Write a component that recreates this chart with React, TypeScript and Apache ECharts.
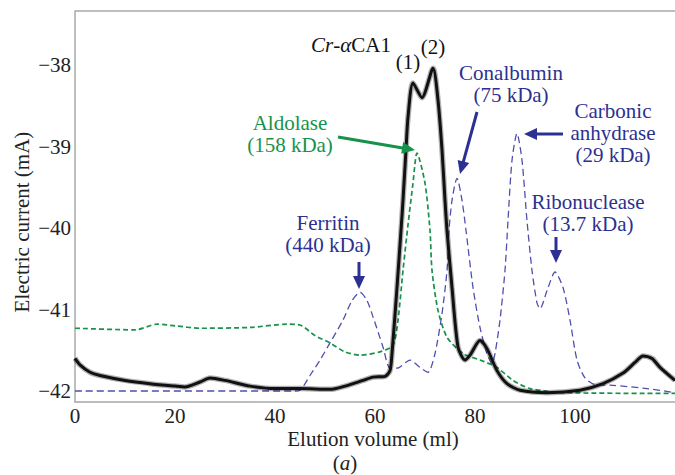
import React, { useEffect, useRef } from "react";
import * as echarts from "echarts";

// Elution profile of Cr-αCA1 (black, solid)
const crVolume = [0, 1, 3, 5, 10, 15, 20, 22, 25, 27, 30, 35, 40, 45, 51, 54, 57.6, 59.6, 62, 63, 63.4, 64.4, 65.2, 65.6, 66.2, 66.6, 67.6, 69.4, 71.6, 72.6, 73.4, 74.0, 74.4, 75.4, 76.6, 78.0, 79.0, 81.0, 82.4, 84.4, 86.4, 89, 94.4, 101, 105.6, 109.6, 112, 113.6, 115.4, 117, 120];
const crCurrent = [-41.6, -41.68, -41.77, -41.81, -41.87, -41.91, -41.94, -41.95, -41.89, -41.84, -41.87, -41.94, -41.97, -41.97, -41.98, -41.94, -41.87, -41.83, -41.82, -41.75, -41.54, -40.73, -40.03, -39.66, -39.04, -38.64, -38.22, -38.4, -38.04, -38.43, -39.04, -39.66, -40.03, -40.73, -41.46, -41.62, -41.56, -41.38, -41.48, -41.75, -41.91, -41.99, -42.02, -41.99, -41.91, -41.78, -41.65, -41.57, -41.6, -41.71, -41.87];

// Aldolase standard (green, dashed)
const aldolaseVolume = [0, 12, 16.4, 20, 25, 35, 42.4, 45, 48, 51, 54, 57, 61, 63.6, 64.6, 65.6, 66.6, 67.6, 68.4, 70, 71, 71.4, 72.6, 74.4, 77.6, 81, 84.4, 87.6, 91, 97.6, 120];
const aldolaseCurrent = [-41.23, -41.25, -41.18, -41.2, -41.23, -41.22, -41.18, -41.19, -41.32, -41.41, -41.52, -41.56, -41.52, -41.44, -41.13, -40.52, -39.96, -39.45, -39.08, -39.45, -40.03, -40.52, -41.01, -41.34, -41.54, -41.62, -41.71, -41.87, -41.97, -42.02, -42.03];

// Ferritin, conalbumin, carbonic anhydrase, ribonuclease standards (blue, dashed)
const standardsVolume = [0, 43.6, 45, 47, 49, 51, 53.6, 55.4, 57, 58.4, 59.6, 61.6, 63, 64.4, 67, 69, 70.6, 72, 73.4, 74.4, 74.8, 75.4, 76.4, 77.4, 78.2, 79.6, 81, 82.4, 83.4, 84, 85, 86, 86.6, 87.4, 88.4, 89.4, 90.4, 91.4, 92.4, 93, 94.4, 96, 97.6, 99, 100.4, 102, 104, 107.6, 114.4, 120];
const standardsCurrent = [-42.0, -42.0, -41.99, -41.81, -41.62, -41.41, -41.13, -40.89, -40.79, -40.89, -41.09, -41.46, -41.72, -41.72, -41.62, -41.71, -41.77, -41.54, -41.05, -40.52, -40.03, -39.66, -39.39, -39.66, -40.03, -40.73, -41.22, -41.54, -41.66, -41.54, -41.13, -40.52, -39.91, -39.17, -38.84, -39.17, -39.91, -40.52, -40.92, -40.99, -40.77, -40.54, -40.73, -41.13, -41.62, -41.84, -41.92, -41.93, -41.97, -42.02];

const xTicks = [0, 20, 40, 60, 80, 100];
const yTicks = [-42, -41, -40, -39, -38];

const FONT = "Liberation Serif, serif";
const FS = 21;
const GREEN = "#17924b";
const BLUE_TEXT = "#2c3090";
const BLUE_LINE = "#4f4fae";
const AXIS = "#a8a8a8";

const pairs = (xs: number[], ys: number[]) => xs.map((x, i) => [x, ys[i]]);

function arrow(x1: number, y1: number, x2: number, y2: number, color: string) {
  const dx = x2 - x1;
  const dy = y2 - y1;
  const len = Math.sqrt(dx * dx + dy * dy);
  const ux = dx / len;
  const uy = dy / len;
  const L = 13;
  const W = 6;
  const bx = x2 - ux * L;
  const by = y2 - uy * L;
  const nx = -uy;
  const ny = ux;
  return [
    {
      type: "line",
      shape: { x1, y1, x2: bx + ux * 2, y2: by + uy * 2 },
      style: { stroke: color, lineWidth: 3 },
      z: 100,
    },
    {
      type: "polygon",
      shape: {
        points: [
          [x2, y2],
          [bx + nx * W, by + ny * W],
          [bx - nx * W, by - ny * W],
        ],
      },
      style: { fill: color },
      z: 100,
    },
  ];
}

function label(text: string, x: number, y: number, color: string, extra: any = {}) {
  return {
    type: "text",
    x,
    y,
    z: 100,
    style: {
      text,
      fill: color,
      fontFamily: FONT,
      fontSize: FS,
      align: "center",
      verticalAlign: "middle",
      lineHeight: 22,
      ...extra,
    },
  };
}

export default function App() {
  const ref = useRef<HTMLDivElement>(null);

  useEffect(() => {
    if (!ref.current) return;
    const chart = echarts.init(ref.current, undefined, { renderer: "svg" });

    const italic = { fontStyle: "italic", fontFamily: FONT, fontSize: FS };

    const graphic: any[] = [
      {
        type: "line",
        shape: { x1: 75, y1: 11, x2: 675, y2: 11 },
        style: { stroke: AXIS, lineWidth: 1.5 },
      },
      label("Elution volume (ml)", 373, 439, "#222", { lineHeight: 21 }),
      {
        type: "text",
        x: 345,
        y: 463,
        style: {
          text: "({i|a})",
          fill: "#222",
          fontFamily: FONT,
          fontSize: FS,
          align: "center",
          verticalAlign: "middle",
          rich: { i: { ...italic, fill: "#222" } },
        },
      },
      {
        type: "text",
        x: 22,
        y: 222,
        rotation: Math.PI / 2,
        style: {
          text: "Electric current (mA)",
          fill: "#222",
          fontFamily: FONT,
          fontSize: FS,
          align: "center",
          verticalAlign: "middle",
        },
      },
      {
        type: "text",
        x: 351,
        y: 45,
        z: 100,
        style: {
          text: "{i|Cr}-{i|α}CA1",
          fill: "#111",
          fontFamily: FONT,
          fontSize: FS,
          align: "center",
          verticalAlign: "middle",
          rich: { i: { ...italic, fill: "#111" } },
        },
      },
      label("(1)", 408, 62, "#111"),
      label("(2)", 433, 47, "#111"),
      label("Aldolase\n(158 kDa)", 290, 134, GREEN),
      ...arrow(338, 137, 415, 150, GREEN),
      label("Ferritin\n(440 kDa)", 328, 234, BLUE_TEXT),
      ...arrow(359, 262, 359, 289, BLUE_TEXT),
      label("Conalbumin\n(75 kDa)", 511, 84, BLUE_TEXT),
      ...arrow(477, 112, 460, 174, BLUE_TEXT),
      label("Carbonic\nanhydrase\n(29 kDa)", 613, 133, BLUE_TEXT),
      ...arrow(563, 134, 524, 134, BLUE_TEXT),
      label("Ribonuclease\n(13.7 kDa)", 588, 213, BLUE_TEXT),
      ...arrow(556, 237, 556, 263, BLUE_TEXT),
    ];

    chart.setOption({
      animation: false,
      backgroundColor: "#fff",
      textStyle: { fontFamily: FONT },
      grid: { left: 75, top: 11, right: 0, bottom: 73, containLabel: false },
      xAxis: {
        type: "value",
        min: 0,
        max: 120,
        interval: 20,
        axisLine: { show: true, onZero: false, lineStyle: { color: AXIS, width: 1.5 } },
        axisTick: { show: false },
        splitLine: { show: false },
        axisLabel: {
          color: "#222",
          fontFamily: FONT,
          fontSize: FS,
          margin: 3,
          customValues: xTicks,
          formatter: (v: number) => (v === 120 ? "" : String(v)),
        },
      },
      yAxis: {
        type: "value",
        min: -42.135,
        max: -37.337,
        axisLine: { show: true, onZero: false, lineStyle: { color: AXIS, width: 1.5 } },
        axisTick: { show: false },
        splitLine: { show: false },
        axisLabel: {
          color: "#222",
          fontFamily: FONT,
          fontSize: FS,
          margin: 4,
          customValues: yTicks,
          formatter: (v: number) => String(v).replace("-", "\u2212"),
        },
      },
      series: [
        {
          type: "line",
          name: "Standards",
          data: pairs(standardsVolume, standardsCurrent),
          showSymbol: false,
          smooth: 0.25,
          lineStyle: { color: BLUE_LINE, width: 1.3, type: [7, 4] },
          z: 2,
        },
        {
          type: "line",
          name: "Aldolase",
          data: pairs(aldolaseVolume, aldolaseCurrent),
          showSymbol: false,
          smooth: 0.25,
          lineStyle: { color: GREEN, width: 1.7, type: [5, 3] },
          z: 3,
        },
        {
          type: "line",
          name: "Cr-αCA1 halo",
          data: pairs(crVolume, crCurrent),
          showSymbol: false,
          smooth: 0.25,
          lineStyle: { color: "rgba(0,0,0,0.3)", width: 5.5 },
          z: 4,
        },
        {
          type: "line",
          name: "Cr-αCA1",
          data: pairs(crVolume, crCurrent),
          showSymbol: false,
          smooth: 0.25,
          lineStyle: { color: "#111", width: 3 },
          z: 5,
        },
      ],
      graphic,
    });

    return () => chart.dispose();
  }, []);

  return (
    <div
      ref={ref}
      style={{ position: "fixed", left: 0, top: 0, width: 675, height: 475 }}
    />
  );
}
